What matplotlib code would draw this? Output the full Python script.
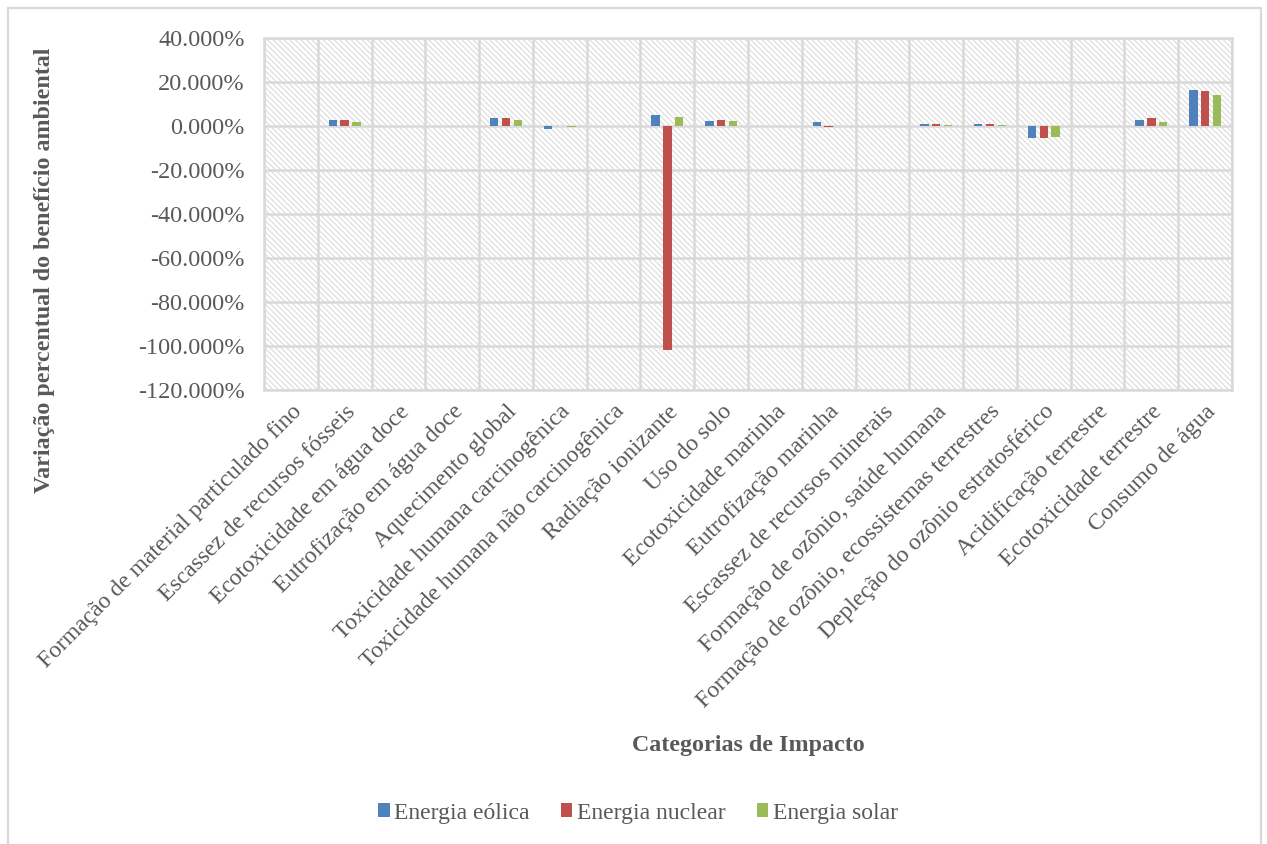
import numpy as np
import matplotlib.pyplot as plt
from matplotlib.patches import Rectangle
from matplotlib.ticker import FuncFormatter

plt.rcParams['font.family'] = ['Liberation Serif', 'DejaVu Serif']
plt.rcParams['hatch.linewidth'] = 0.9

categorias = [
    'Formação de material particulado fino',
    'Escassez de recursos fósseis',
    'Ecotoxicidade em água doce',
    'Eutrofização em água doce',
    'Aquecimento global',
    'Toxicidade humana carcinogênica',
    'Toxicidade humana não carcinogênica',
    'Radiação ionizante',
    'Uso do solo',
    'Ecotoxicidade marinha',
    'Eutrofização marinha',
    'Escassez de recursos minerais',
    'Formação de ozônio, saúde humana',
    'Formação de ozônio, ecossistemas terrestres',
    'Depleção do ozônio estratosférico',
    'Acidificação terrestre',
    'Ecotoxicidade terrestre',
    'Consumo de água',
]

# variação percentual (%)
eolica = [0.0, 2.7, 0.0, 0.0, 3.6, -1.4, 0.0, 5.2, 2.5, 0.0,
          1.8, 0.0, 0.9, 0.9, -5.3, 0.0, 2.9, 16.4]
nuclear = [0.0, 2.7, 0.0, 0.0, 3.6, -0.2, 0.0, -101.8, 2.7, 0.0,
           -0.5, 0.0, 0.9, 0.9, -5.3, 0.0, 3.5, 16.1]
solar = [0.0, 1.7, 0.0, 0.0, 2.6, -0.3, 0.0, 4.3, 2.2, 0.0,
         -0.2, 0.0, 0.3, 0.3, -5.0, 0.0, 2.0, 14.0]

series = ['Energia eólica', 'Energia nuclear', 'Energia solar']
cores = ['#4f81bd', '#c0504d', '#9bbb59']

yticks = [40, 20, 0, -20, -40, -60, -80, -100, -120]

texto = '#595959'
grade = '#d9d9d9'

fig = plt.figure(figsize=(12.67, 8.44), dpi=100)
ax = fig.add_axes([264 / 1267, 1 - 390 / 844, (1232 - 264) / 1267, (390 - 38) / 844])

# moldura externa do gráfico
fig.add_artist(Rectangle((8 / 1267, -0.05), (1261 - 8) / 1267, 1.05 - 8 / 844,
                         transform=fig.transFigure, fill=False,
                         edgecolor=grade, linewidth=1.6))

n = len(categorias)
x = np.arange(n)
ax.set_xlim(-0.5, n - 0.5)
ax.set_ylim(-120, 40)

# fundo hachurado da área de plotagem
ax.add_patch(Rectangle((0, 0), 1, 1, transform=ax.transAxes, facecolor='white',
                       edgecolor='#dedede', linewidth=0, hatch='\\' * 6, zorder=0))

for k in yticks:
    ax.axhline(k, color=grade, linewidth=1.8, zorder=1)
for k in np.arange(n + 1) - 0.5:
    ax.axvline(k, color=grade, linewidth=1.8, zorder=1)

largura = 0.155
passo = 0.217
for i, valores in enumerate([eolica, nuclear, solar]):
    ax.bar(x + (i - 1) * passo, valores, width=largura, color=cores[i],
           linewidth=0, label=series[i], zorder=3)

for s in ax.spines.values():
    s.set_color(grade)
    s.set_linewidth(1.8)

ax.set_yticks(yticks)
ax.yaxis.set_major_formatter(FuncFormatter(lambda v, p: f'{v:.3f}%'))
ax.set_xticks(x)
ax.set_xticklabels(categorias, rotation=45, ha='right', va='top',
                   rotation_mode='anchor')
ax.tick_params(axis='both', length=0, labelcolor=texto)
ax.tick_params(axis='x', pad=8, labelsize=17)
ax.tick_params(axis='y', pad=14, labelsize=17.5)

fig.text(45 / 1267, 1 - 270 / 844, 'Variação percentual do benefício ambiental',
         rotation=90, ha='center', va='center', fontsize=17.3,
         fontweight='bold', color=texto)
fig.text(748 / 1267, 1 - 745 / 844, 'Categorias de Impacto', ha='center',
         va='center', fontsize=17.3, fontweight='bold', color=texto)

handles, labels = ax.get_legend_handles_labels()
leg = fig.legend(handles, labels, loc='center', bbox_to_anchor=(638 / 1267, 1 - 813 / 844),
                 ncol=3, frameon=False, fontsize=17, handlelength=0.5,
                 handleheight=0.5, handletextpad=0.2, columnspacing=1.3)
for t in leg.get_texts():
    t.set_color(texto)

fig.savefig('out.png', dpi=100)
plt.close()
